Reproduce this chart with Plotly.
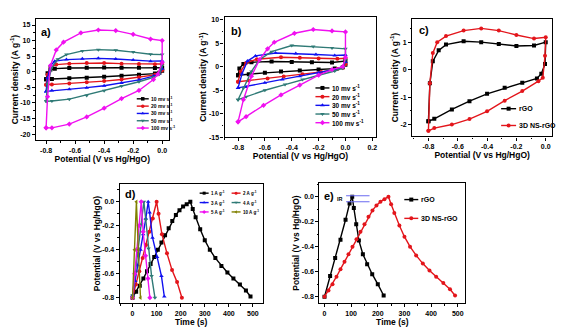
import plotly.graph_objects as go

# ================= DATA =================
# Panel a: CV of 3D NS-rGO at different scan rates (potential V, current A/g)
A_V_10 = [-0.80, -0.79, -0.77, -0.74, -0.64, -0.52, -0.40, -0.28, -0.16, -0.05, 0.00, 0.00, -0.02, -0.05, -0.16, -0.28, -0.40, -0.52, -0.64, -0.76, -0.80]
A_I_10 = [-2.4, -0.5, 0.7, 1.0, 1.2, 1.3, 1.35, 1.3, 1.25, 1.2, 1.3, 0.3, -0.3, -0.6, -1.0, -1.3, -1.6, -1.9, -2.1, -2.3, -2.4]
A_V_20 = [-0.80, -0.79, -0.77, -0.73, -0.64, -0.52, -0.40, -0.28, -0.16, -0.05, 0.00, 0.00, -0.02, -0.05, -0.16, -0.28, -0.40, -0.52, -0.64, -0.76, -0.80]
A_I_20 = [-4.2, -1.0, 1.5, 2.3, 2.6, 2.8, 2.8, 2.6, 2.5, 2.4, 2.5, 0.5, -0.5, -1.0, -1.8, -2.5, -3.0, -3.4, -3.8, -4.1, -4.2]
A_V_30 = [-0.80, -0.79, -0.77, -0.74, -0.66, -0.55, -0.44, -0.32, -0.20, -0.08, 0.00, 0.00, -0.02, -0.06, -0.16, -0.28, -0.40, -0.52, -0.64, -0.76, -0.80]
A_I_30 = [-6.3, -2.0, 2.0, 3.4, 3.9, 4.2, 4.3, 4.1, 3.8, 3.4, 3.5, 1.0, -0.6, -1.4, -2.6, -3.6, -4.5, -5.1, -5.6, -6.0, -6.3]
A_V_50 = [-0.80, -0.79, -0.76, -0.72, -0.66, -0.55, -0.44, -0.32, -0.20, -0.08, 0.00, 0.00, -0.02, -0.06, -0.16, -0.28, -0.40, -0.52, -0.64, -0.76, -0.80]
A_I_50 = [-9.5, -4.0, 1.5, 4.0, 5.5, 6.7, 7.1, 6.9, 6.3, 5.6, 5.5, 2.0, -0.8, -1.8, -3.2, -4.6, -6.1, -7.6, -8.8, -9.4, -9.5]
A_V_100 = [-0.80, -0.79, -0.77, -0.73, -0.68, -0.56, -0.44, -0.32, -0.20, -0.08, 0.00, 0.00, -0.03, -0.06, -0.16, -0.28, -0.40, -0.52, -0.64, -0.76, -0.80]
A_I_100 = [-18.0, -8.0, 2.0, 7.0, 9.5, 12.5, 13.4, 13.2, 12.0, 10.5, 10.0, 3.0, -0.8, -2.5, -6.0, -8.6, -11.7, -14.5, -16.8, -18.0, -18.0]

# Panel b: CV of rGO at different scan rates
B_V_10 = [-0.80, -0.79, -0.76, -0.70, -0.55, -0.40, -0.25, -0.10, 0.00, 0.00, -0.02, -0.08, -0.20, -0.34, -0.48, -0.60, -0.72, -0.80]
B_I_10 = [-1.8, -0.4, 0.6, 0.95, 1.1, 1.0, 0.95, 0.9, 1.2, 0.4, -0.1, -0.4, -0.6, -0.8, -1.0, -1.3, -1.6, -1.8]
B_V_20 = [-0.80, -0.78, -0.74, -0.66, -0.48, -0.34, -0.20, -0.06, 0.00, 0.00, -0.02, -0.06, -0.18, -0.32, -0.46, -0.58, -0.72, -0.80]
B_I_20 = [-3.2, -1.0, 0.8, 1.6, 2.0, 1.9, 1.75, 1.7, 1.8, 0.5, -0.2, -0.5, -1.1, -1.6, -2.1, -2.5, -2.9, -3.2]
B_V_30 = [-0.80, -0.77, -0.73, -0.67, -0.52, -0.37, -0.22, -0.08, 0.00, 0.00, -0.02, -0.08, -0.20, -0.34, -0.47, -0.60, -0.74, -0.80]
B_I_30 = [-4.5, -1.5, 1.2, 2.3, 2.9, 2.8, 2.6, 2.4, 2.5, 1.0, 0.0, -0.6, -1.3, -2.0, -2.7, -3.4, -4.3, -4.5]
B_V_50 = [-0.80, -0.76, -0.70, -0.64, -0.55, -0.40, -0.24, -0.10, 0.00, 0.00, -0.02, -0.08, -0.20, -0.32, -0.45, -0.60, -0.74, -0.80]
B_I_50 = [-7.0, -4.5, -1.0, 1.5, 3.2, 4.5, 4.3, 4.0, 3.8, 1.5, -0.3, -0.9, -1.8, -2.7, -3.8, -5.0, -6.4, -7.0]
B_V_100 = [-0.80, -0.76, -0.70, -0.64, -0.58, -0.53, -0.38, -0.24, -0.10, 0.00, 0.00, -0.02, -0.10, -0.20, -0.34, -0.48, -0.61, -0.74, -0.80]
B_I_100 = [-11.7, -7.0, -2.0, 1.5, 3.8, 5.2, 7.1, 7.9, 7.6, 7.4, 2.0, 0.0, -0.6, -1.8, -3.9, -6.0, -8.2, -10.6, -11.7]

# Panel c: CV comparison rGO vs 3D NS-rGO
C_V_RGO = [-0.80, -0.79, -0.77, -0.73, -0.68, -0.56, -0.44, -0.32, -0.20, -0.08, 0.00, -0.005, -0.03, -0.06, -0.16, -0.28, -0.40, -0.52, -0.64, -0.76, -0.80]
C_I_RGO = [-1.88, -0.5, 0.3, 0.7, 0.91, 1.03, 1.00, 0.93, 0.86, 0.88, 1.00, 0.2, -0.15, -0.32, -0.48, -0.66, -0.88, -1.15, -1.45, -1.79, -1.88]
C_V_NS = [-0.80, -0.79, -0.77, -0.74, -0.68, -0.56, -0.44, -0.32, -0.20, -0.08, 0.00, -0.005, -0.02, -0.05, -0.16, -0.28, -0.40, -0.52, -0.64, -0.76, -0.80]
C_I_NS = [-2.23, -0.5, 0.6, 1.0, 1.22, 1.42, 1.50, 1.42, 1.26, 1.13, 1.18, 0.5, -0.3, -0.42, -0.78, -1.13, -1.52, -1.80, -2.00, -2.13, -2.23]

# Panel d: GCD of 3D NS-rGO at different current densities (time s, potential V)
D_T_1 = [0, 15, 30, 45, 60, 75, 90, 105, 120, 135, 150, 165, 180, 195, 210, 225, 240, 250, 262, 281, 300, 321, 344, 369, 394, 419, 446, 471, 490]
D_P_1 = [-0.80, -0.75, -0.70, -0.64, -0.58, -0.52, -0.46, -0.40, -0.34, -0.28, -0.22, -0.16, -0.11, -0.07, -0.04, -0.02, 0.00, -0.06, -0.13, -0.23, -0.32, -0.40, -0.47, -0.535, -0.59, -0.64, -0.69, -0.74, -0.79]
D_T_2 = [0, 14, 28, 42, 56, 70, 84, 100, 108, 122, 143, 164, 185, 205]
D_P_2 = [-0.80, -0.69, -0.58, -0.47, -0.36, -0.25, -0.14, 0.00, -0.10, -0.27, -0.43, -0.57, -0.67, -0.80]
D_T_3 = [0, 11, 22, 33, 44, 55, 65, 71, 83, 102, 120, 132]
D_P_3 = [-0.78, -0.66, -0.53, -0.40, -0.27, -0.14, 0.00, -0.09, -0.30, -0.46, -0.62, -0.79]
D_T_4 = [0, 12, 24, 36, 47, 55, 66, 79, 93]
D_P_4 = [-0.78, -0.59, -0.39, -0.19, 0.00, -0.15, -0.39, -0.62, -0.80]
D_T_5 = [0, 9, 18, 27, 36, 44, 54, 64, 72]
D_P_5 = [-0.80, -0.60, -0.40, -0.20, 0.00, -0.25, -0.45, -0.64, -0.80]
D_T_10 = [0, 8, 16, 24, 33]
D_P_10 = [-0.80, -0.40, 0.00, -0.40, -0.80]

# Panel e: GCD comparison at 1 A/g
E_T_RGO = [0, 21, 40, 60, 79, 94, 104, 110, 119, 129, 144, 160, 179, 200, 222]
E_P_RGO = [-0.80, -0.635, -0.49, -0.345, -0.185, -0.055, 0.00, -0.09, -0.22, -0.35, -0.46, -0.54, -0.62, -0.70, -0.79]
E_T_NS = D_T_1
E_P_NS = D_P_1
IR_T = [81, 169]
IR_TOP = 0.008
IR_BOT = -0.04

# Tick values
CV_X_TICKS = [-0.8, -0.6, -0.4, -0.2, 0.0]
B_X_TICKS = [-0.8, -0.6, -0.4, -0.2, 0.0, 0.2]
A_Y_TICKS = [-20, -15, -10, -5, 0, 5, 10, 15]
B_Y_TICKS = [-15, -10, -5, 0, 5, 10]
C_Y_TICKS = [-2, -1, 0, 1]
GCD_X_TICKS = [0, 100, 200, 300, 400, 500]
GCD_Y_TICKS = [-0.8, -0.6, -0.4, -0.2, 0.0]

# ================= STYLE =================
FONT = "Liberation Sans, Arial, Helvetica, sans-serif"
BLACK = "#000000"
RED = "#e3151b"
BLUE = "#1010f0"
TEAL = "#2f7a76"
MAGENTA = "#f010f0"
OLIVE = "#808000"
SUP = "<sup>-1</sup>"
CLEAR = "rgba(0,0,0,0)"

fig = go.Figure()


def series(x, y, color, symbol, ax):
    fig.add_trace(go.Scatter(
        x=x, y=y, mode="lines+markers",
        line=dict(color=color, width=1.4),
        marker=dict(symbol=symbol, size=4, color=color, line=dict(width=0)),
        xaxis="x" + ax, yaxis="y" + ax, showlegend=False, hoverinfo="skip"))


# panel a
series(A_V_10, A_I_10, BLACK, "square", "")
series(A_V_20, A_I_20, RED, "circle", "")
series(A_V_30, A_I_30, BLUE, "triangle-up", "")
series(A_V_50, A_I_50, TEAL, "triangle-down", "")
series(A_V_100, A_I_100, MAGENTA, "diamond", "")
# panel b
series(B_V_10, B_I_10, BLACK, "square", "2")
series(B_V_20, B_I_20, RED, "circle", "2")
series(B_V_30, B_I_30, BLUE, "triangle-up", "2")
series(B_V_50, B_I_50, TEAL, "triangle-down", "2")
series(B_V_100, B_I_100, MAGENTA, "diamond", "2")
# panel c
series(C_V_RGO, C_I_RGO, BLACK, "square", "3")
series(C_V_NS, C_I_NS, RED, "circle", "3")
# panel d
series(D_T_1, D_P_1, BLACK, "square", "4")
series(D_T_2, D_P_2, RED, "circle", "4")
series(D_T_3, D_P_3, BLUE, "triangle-up", "4")
series(D_T_4, D_P_4, TEAL, "triangle-down", "4")
series(D_T_5, D_P_5, MAGENTA, "diamond", "4")
series(D_T_10, D_P_10, OLIVE, "triangle-left", "4")
# panel e
series(E_T_RGO, E_P_RGO, BLACK, "square", "5")
series(E_T_NS, E_P_NS, RED, "circle", "5")
for lvl in (IR_TOP, IR_BOT):
    fig.add_trace(go.Scatter(x=IR_T, y=[lvl, lvl], mode="lines",
                             line=dict(color="#6a6af0", width=1.1),
                             xaxis="x5", yaxis="y5", showlegend=False, hoverinfo="skip"))
fig.add_annotation(x=IR_T[0] - 3, y=(IR_TOP + IR_BOT) / 2, xref="x5", yref="y5", text="IR",
                   showarrow=False, xanchor="right", yanchor="middle",
                   font=dict(size=5.5, family=FONT, color="black", weight="bold"))


def fmt(v, nd):
    return f"{v:.{nd}f}"


def axis(dom, rng, tv, nd, title, anchor, minor_step, tsize=8.5, standoff=None):
    d = dict(domain=dom, range=rng, anchor=anchor,
             tickmode="array", tickvals=tv, ticktext=[fmt(v, nd) for v in tv],
             showline=True, linecolor="black", linewidth=1.3, mirror=True,
             ticks="outside", ticklen=3, tickwidth=1, tickcolor="black",
             showgrid=False, zeroline=False,
             tickfont=dict(size=7, family=FONT, color="black", weight="bold"),
             minor=dict(ticks="outside", ticklen=1.5, tickwidth=0.8, tickcolor="black",
                        dtick=minor_step),
             title=dict(text=title, font=dict(size=tsize, family=FONT, color="black", weight="bold")))
    if standoff is not None:
        d["title"]["standoff"] = standoff
    return d


W, H = 575, 334


def dx(p0, p1):
    return [p0 / W, p1 / W]


def dy(top, bottom):
    return [1 - bottom / H, 1 - top / H]


POT = "Potential (V vs Hg/HgO)"
CUR = "Current density (A g" + SUP + ")"
TIME = "Time (s)"

fig.update_layout(
    width=W, height=H, margin=dict(l=0, r=0, t=0, b=0),
    paper_bgcolor="white", plot_bgcolor=CLEAR,
    font=dict(family=FONT, color="black"),
    xaxis=axis(dx(36, 169), [-0.87, 0.045], CV_X_TICKS, 1, POT, "y", 0.1, standoff=1),
    yaxis=axis(dy(18, 141), [-22, 17], A_Y_TICKS, 0, CUR, "x", 2.5, standoff=0),
    xaxis2=axis(dx(225, 377), [-0.9, 0.23], B_X_TICKS, 1, POT, "y2", 0.1, standoff=1),
    yaxis2=axis(dy(16, 138), [-15, 10.6], B_Y_TICKS, 0, CUR, "x2", 2.5, standoff=0),
    xaxis3=axis(dx(413, 553), [-0.91, 0.043], CV_X_TICKS, 1, POT, "y3", 0.1, standoff=1),
    yaxis3=axis(dy(18, 137), [-2.43, 1.85], C_Y_TICKS, 0, CUR, "x3", 0.5, standoff=0),
    xaxis4=axis(dx(120, 263), [-53, 540], GCD_X_TICKS, 0, TIME, "y4", 50, standoff=1),
    yaxis4=axis(dy(185, 306), [-0.847, 0.15], GCD_Y_TICKS, 1, POT, "x4", 0.1, standoff=0),
    xaxis5=axis(dx(320, 466), [-19, 528], GCD_X_TICKS, 0, TIME, "y5", 50, standoff=1),
    yaxis5=axis(dy(184, 306), [-0.853, 0.111], GCD_Y_TICKS, 1, POT, "x5", 0.1, standoff=0),
    xaxis6=dict(domain=[0, 1], range=[0, W], visible=False, anchor="y6", fixedrange=True),
    yaxis6=dict(domain=[0, 1], range=[H, 0], visible=False, anchor="x6", fixedrange=True),
)


def key(x0, y, length, color, symbol, text, fsize, msize=4):
    fig.add_trace(go.Scatter(x=[x0, x0 + length], y=[y, y], mode="lines",
                             line=dict(color=color, width=1.4), xaxis="x6", yaxis="y6",
                             showlegend=False, hoverinfo="skip"))
    fig.add_trace(go.Scatter(x=[x0 + length / 2], y=[y], mode="markers",
                             marker=dict(symbol=symbol, size=msize, color=color, line=dict(width=0)),
                             xaxis="x6", yaxis="y6", showlegend=False, hoverinfo="skip"))
    fig.add_annotation(x=x0 + length + 1.5, y=y, xref="x6", yref="y6", text=text,
                       showarrow=False, xanchor="left", yanchor="middle", borderpad=0,
                       font=dict(size=fsize, family=FONT, color="black", weight="bold"))


CV_KEYS = [("10", BLACK, "square"), ("20", RED, "circle"), ("30", BLUE, "triangle-up"),
           ("50", TEAL, "triangle-down"), ("100", MAGENTA, "diamond")]
# legend a
for i, (lab, col, sym) in enumerate(CV_KEYS):
    key(137, 99 + 7.4 * i, 12, col, sym, lab + " mv s" + SUP, 5, 3.5)
# legend b
for i, (lab, col, sym) in enumerate(CV_KEYS):
    key(316, 88 + 8.8 * i, 14, col, sym, lab + " mv s" + SUP, 6.5, 4)
# legend c
key(502, 109, 15, BLACK, "square", "rGO", 7)
key(502, 126, 15, RED, "circle", "3D NS-rGO", 7)
# legend d (two columns)
GCD_KEYS = [("1", BLACK, "square"), ("2", RED, "circle"), ("3", BLUE, "triangle-up"),
            ("4", TEAL, "triangle-down"), ("5", MAGENTA, "diamond"), ("10", OLIVE, "triangle-left")]
for i, (lab, col, sym) in enumerate(GCD_KEYS):
    colx = 200 if i % 2 == 0 else 232
    key(colx, 194.5 + 9.5 * (i // 2), 9, col, sym, lab + " A g" + SUP, 4.5, 3)
# legend e
key(405, 201, 14, BLACK, "square", "rGO", 7)
key(405, 220, 14, RED, "circle", "3D NS-rGO", 7)

# panel labels
for lab, px, py in [("a)", 39, 31), ("b)", 229, 30), ("c)", 418, 29), ("d)", 123, 195), ("e)", 323, 197)]:
    fig.add_annotation(x=px, y=py, xref="x6", yref="y6", text=lab, showarrow=False,
                       xanchor="left", yanchor="middle",
                       font=dict(size=11, family=FONT, color="black", weight="bold"))

fig.write_html("out.html")
